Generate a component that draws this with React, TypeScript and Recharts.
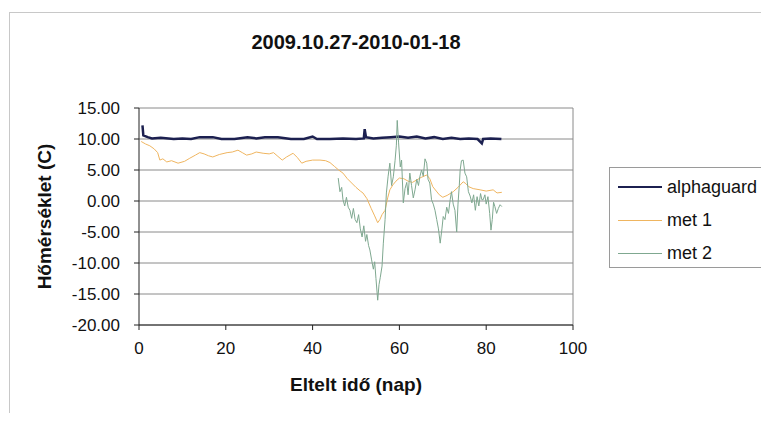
import { LineChart, Line, XAxis, YAxis, CartesianGrid, ReferenceLine } from 'recharts'

const xTicks = [0, 20, 40, 60, 80, 100]
const yTicks = [-20, -15, -10, -5, 0, 5, 10, 15]

// alphaguard (day, °C)
const agDays = [0.8, 1.0, 2, 3, 5, 8, 10, 12, 14, 17, 19, 22, 25, 27, 29, 32, 35, 38, 40, 41, 44, 47, 50, 51.8, 52, 52.3, 54, 56, 58, 60, 62, 64, 66, 68, 70, 72, 74, 76, 78, 79, 79.3, 81, 83.5]
const agTemp = [12.2, 10.6, 10.3, 10.1, 10.2, 10.0, 10.1, 10.0, 10.3, 10.3, 10.0, 10.0, 10.3, 10.1, 10.3, 10.3, 10.0, 10.0, 10.4, 10.0, 10.0, 10.1, 10.0, 10.1, 11.6, 10.3, 10.1, 10.2, 10.3, 10.4, 10.2, 10.4, 10.1, 10.3, 10.0, 10.2, 10.0, 10.1, 10.0, 9.3, 10.0, 10.1, 10.0]

// met 1
const m1Days = [0.5, 1.5, 2.5, 3.5, 4.3, 4.8, 5.5, 6.4, 7.5, 9, 10.5, 11.7, 13, 14, 15, 16, 17, 18.5, 20.3, 21.5, 22.8, 23.8, 24.8, 26, 27, 28.6, 30, 31, 32, 33, 34, 35.5, 36.5, 37.5, 38.5, 40, 41.7, 43, 44, 45, 46, 47, 48, 49, 50, 51, 51.6, 52.5, 53.5, 54.3, 55, 55.5, 56, 56.7, 57.3, 57.8, 58.5, 59.2, 60, 61, 62, 63, 64, 65, 66.3, 67, 67.7, 68.5, 69.2, 70, 71, 72.4, 73.5, 74.7, 75.3, 76, 77, 78.6, 80, 81.6, 82.5, 83.6]
const m1Temp = [9.6, 9.2, 8.9, 8.4, 7.8, 6.6, 6.8, 6.3, 6.5, 6.1, 6.4, 6.9, 7.4, 7.8, 7.6, 7.3, 7.1, 7.5, 7.8, 7.9, 8.2, 7.8, 7.4, 7.6, 7.9, 7.7, 7.6, 7.8, 7.2, 6.6, 7.1, 7.7, 7.0, 6.1, 6.4, 6.6, 6.6, 6.5, 6.2, 5.6, 5.0, 4.5, 3.6, 2.9, 2.2, 1.6, 1.3, 0.4, -1.2, -2.4, -3.5, -3.0, -2.2, -1.5, 0.5, 1.8, 2.6, 3.2, 3.7, 3.6, 3.2, 3.0, 3.4, 3.8, 4.2, 3.6, 2.3, 1.6, 1.0, 0.6, 0.9, 1.5, 2.2, 3.1, 2.8, 2.3, 2.0, 1.8, 1.6, 1.8, 1.3, 1.4]

// met 2
const m2Days = [45.9, 46.3, 46.7, 47.0, 47.4, 47.8, 48.2, 48.6, 49.0, 49.4, 49.8, 50.2, 50.6, 51.0, 51.4, 51.8, 52.2, 52.5, 52.9, 53.2, 53.6, 54.0, 54.3, 54.6, 55.0, 55.3, 55.6, 56.0, 56.3, 56.7, 57.0, 57.4, 57.8, 58.2, 58.6, 59.0, 59.3, 59.5, 59.8, 60.2, 60.5, 60.9, 61.3, 61.7, 62.0, 62.4, 62.8, 63.2, 63.6, 64.0, 64.4, 64.7, 65.1, 65.5, 65.9, 66.3, 66.6, 67.0, 67.4, 67.8, 68.2, 68.6, 69.0, 69.4, 69.8, 70.1, 70.5, 70.9, 71.3, 71.7, 72.0, 72.4, 72.8, 73.2, 73.5, 73.8, 74.0, 74.3, 74.7, 75.1, 75.5, 75.9, 76.3, 76.7, 77.1, 77.5, 77.9, 78.3, 78.7, 79.0, 79.3, 79.7, 80.0, 80.4, 80.8, 81.1, 81.4, 81.7, 82.0, 82.4, 82.8, 83.2, 83.6]
const m2Temp = [3.7, 1.5, 2.2, 0.2, -0.8, 0.6, -1.0, -1.5, -2.8, -1.2, -3.0, -3.5, -2.2, -4.5, -5.8, -4.0, -6.5, -5.4, -7.2, -7.9, -9.5, -11.0, -9.8, -12.5, -16.0, -13.5, -12.3, -10.5, -6.8, -3.0, 1.3, 4.0, 6.1, 2.5, 3.9, 6.5, 9.0, 13.0, 9.5, 5.5, 6.6, -0.3, 2.0, 3.0, 1.0, 4.5, 2.5, 0.5, 1.8, 3.5, 2.5, 3.9, 5.0, 4.0, 6.8, 6.1, 3.5, 2.9, 0.2, -0.5, -1.5, -3.0, -4.5, -6.8, -4.5, -2.5, -3.0, -1.0, -2.0, 0.2, 1.5, -0.5, -1.5, -5.0, -0.5, 2.5, 5.0, 6.5, 6.6, 4.5, 3.9, 1.5, 0.8, -0.3, 1.0, -1.5, 0.7, -0.8, 1.2, 0.2, 0.2, 1.0, -0.5, 0.7, -2.0, -4.7, -3.0, -0.2, -0.9, -2.0, -1.2, -0.6, -0.9]

const toPoints = (xs: number[], ys: number[]) => xs.map((x, i) => ({ x, y: ys[i] }))

const series = [
  { name: 'alphaguard', color: '#1c2050', width: 2.5, data: toPoints(agDays, agTemp) },
  { name: 'met 1', color: '#efb560', width: 1, data: toPoints(m1Days, m1Temp) },
  { name: 'met 2', color: '#7fa890', width: 1, data: toPoints(m2Days, m2Temp) },
]

const font = '"Liberation Sans", Arial, sans-serif'

function LegendBox() {
  return (
    <div
      style={{
        position: 'absolute',
        left: 609,
        top: 167,
        width: 160,
        height: 101,
        border: '1px solid #9a9a9a',
        background: '#fff',
        fontFamily: font,
        fontSize: 18,
        color: '#111',
        boxSizing: 'border-box',
        paddingTop: 5,
      }}
    >
      {series.map((s) => (
        <div key={s.name} style={{ display: 'flex', alignItems: 'center', height: 28, marginBottom: 5 }}>
          <div style={{ marginLeft: 8, width: 44, height: s.width > 2 ? 2 : 1, background: s.color }} />
          <span style={{ marginLeft: 5 }}>{s.name}</span>
        </div>
      ))}
    </div>
  )
}

export default function App() {
  return (
    <div style={{ position: 'relative', width: 769, height: 421, margin: -8, background: '#fff', overflow: 'hidden' }}>
      <div
        style={{
          position: 'absolute',
          left: 9,
          top: 12,
          width: 800,
          height: 450,
          border: '1px solid #c8c8c8',
        }}
      />
      <div
        style={{
          position: 'absolute',
          left: 0,
          width: 712,
          top: 31,
          textAlign: 'center',
          fontFamily: font,
          fontWeight: 'bold',
          fontSize: 20,
          color: '#111',
        }}
      >
        2009.10.27-2010-01-18
      </div>
      <div style={{ position: 'absolute', left: 0, top: 0 }}>
        <LineChart width={769} height={421} margin={{ top: 108, right: 196, bottom: 26, left: 0 }}>
          <CartesianGrid horizontal vertical={false} stroke="#8a8a8a" />
          <XAxis
            type="number"
            dataKey="x"
            domain={[0, 100]}
            ticks={xTicks}
            interval={0}
            allowDataOverflow
            stroke="#222"
            tickSize={5}
            tickMargin={12}
            height={70}
            tick={{ fontSize: 17, fontFamily: font, fill: '#111' }}
            label={{ value: 'Eltelt idő (nap)', position: 'center', dy: 24, style: { fontSize: 19, fontWeight: 'bold', fontFamily: font, fill: '#111' } }}
          />
          <YAxis
            type="number"
            domain={[-20, 15]}
            ticks={yTicks}
            interval={0}
            width={139}
            stroke="#222"
            tickSize={5}
            tickMargin={14}
            tickFormatter={(v: number) => v.toFixed(2)}
            tick={{ fontSize: 17, fontFamily: font, fill: '#111' }}
            label={{ value: 'Hőmérséklet (C)', angle: -90, position: 'center', dx: -25, style: { fontSize: 19, fontWeight: 'bold', fontFamily: font, fill: '#111', textAnchor: 'middle' } }}
          />
          <ReferenceLine x={100} stroke="#8a8a8a" />
          {series.map((s) => (
            <Line
              key={s.name}
              data={s.data}
              dataKey="y"
              name={s.name}
              type="linear"
              stroke={s.color}
              strokeWidth={s.width}
              dot={false}
              isAnimationActive={false}
            />
          ))}
        </LineChart>
      </div>
      <LegendBox />
    </div>
  )
}
